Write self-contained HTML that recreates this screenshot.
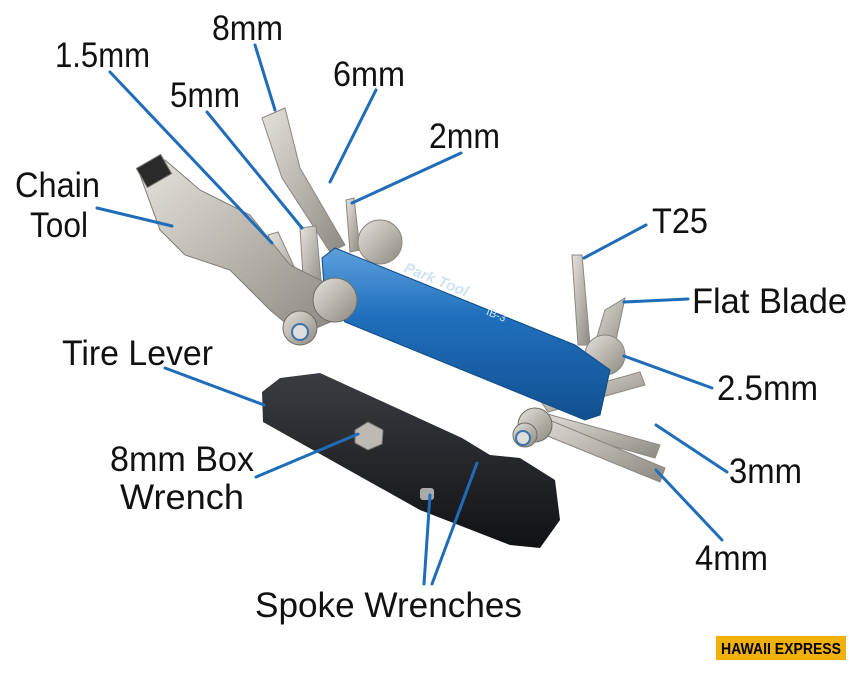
<!DOCTYPE html>
<html><head><meta charset="utf-8"><style>
html,body{margin:0;padding:0;background:#fff;width:862px;height:677px;overflow:hidden}
svg{display:block}
text{font-family:"Liberation Sans",sans-serif;font-size:35px;fill:#111}
</style></head><body>
<svg width="862" height="677" viewBox="0 0 862 677">
<defs>
<linearGradient id="sil" x1="0" y1="0" x2="1" y2="1"><stop offset="0" stop-color="#e4e2dc"/><stop offset=".5" stop-color="#b9b6ae"/><stop offset="1" stop-color="#8c8982"/></linearGradient>
<linearGradient id="blu" x1="0" y1="0" x2="0" y2="1"><stop offset="0" stop-color="#5da0dc"/><stop offset=".4" stop-color="#1f6fbd"/><stop offset="1" stop-color="#12508f"/></linearGradient>
<linearGradient id="blk" x1="0" y1="0" x2="0" y2="1"><stop offset="0" stop-color="#3a3c40"/><stop offset="1" stop-color="#111214"/></linearGradient>
</defs>
<g fill="url(#sil)" stroke="#8a877f" stroke-width="1">
<polygon points="262,118 285,108 300,168 345,245 330,252 282,178"/>
<polygon points="346,200 354,198 360,250 350,252"/>
<polygon points="300,228 316,226 322,290 304,292"/>
<polygon points="268,235 278,232 305,290 292,296"/>
<polygon points="572,255 582,255 590,345 578,345"/>
<polygon points="605,310 625,298 615,345 590,360"/>
<polygon points="540,400 640,372 645,385 548,412"/>
<polygon points="540,412 660,445 655,458 538,425"/>
<polygon points="530,412 665,468 660,482 528,428"/>
<circle cx="380" cy="242" r="22"/>
<circle cx="605" cy="355" r="20"/>
</g>
<g fill="url(#sil)" stroke="#7f7c75" stroke-width="1">
<polygon points="140,175 165,160 200,190 250,215 290,265 330,285 335,320 300,335 270,310 230,270 185,255 160,230"/>
<rect x="140" y="160" width="28" height="22" fill="#2a2a2a" transform="rotate(-30 154 171)"/>
</g>
<polygon points="322,258 335,248 575,345 610,370 600,415 585,420 345,322 325,300" fill="url(#blu)" stroke="#0f4a85"/>
<text x="398" y="283" transform="rotate(22 430 290)" style="font-size:15px;font-weight:bold;font-style:italic;fill:#cfe3f5">Park Tool</text>
<text x="486" y="318" transform="rotate(22 495 315)" style="font-size:11px;fill:#cfe3f5">IB-3</text>
<g fill="url(#sil)" stroke="#6f6c66">
<circle cx="335" cy="300" r="22"/>
<circle cx="300" cy="328" r="17"/>
<circle cx="535" cy="425" r="17"/>
<circle cx="525" cy="435" r="12"/>
</g>
<circle cx="300" cy="332" r="8" fill="#ddd" stroke="#3c72a8" stroke-width="2"/>
<circle cx="523" cy="438" r="7" fill="#ddd" stroke="#3c72a8" stroke-width="2"/>
<polygon points="262,392 280,378 320,373 462,438 490,455 520,458 555,480 560,520 540,548 510,545 420,510 263,422" fill="url(#blk)"/>
<polygon points="355,430 368,422 383,430 382,444 368,450 355,443" fill="#bdbab3" stroke="#777"/>
<rect x="420" y="488" width="14" height="12" fill="#aaa" rx="3"/>
<g stroke="#1f6cb8" stroke-width="3" fill="none" stroke-linecap="round">
<line x1="110" y1="72" x2="272" y2="243"/>
<line x1="207" y1="112" x2="302" y2="228"/>
<line x1="255" y1="45" x2="275" y2="110"/>
<line x1="376" y1="90" x2="330" y2="182"/>
<line x1="461" y1="153" x2="352" y2="203"/>
<line x1="97" y1="208" x2="172" y2="226"/>
<line x1="646" y1="225" x2="584" y2="258"/>
<line x1="688" y1="299" x2="624" y2="302"/>
<line x1="165" y1="368" x2="264" y2="405"/>
<line x1="712" y1="388" x2="624" y2="356"/>
<line x1="256" y1="477" x2="358" y2="434"/>
<line x1="727" y1="472" x2="656" y2="425"/>
<line x1="722" y1="540" x2="656" y2="470"/>
<line x1="424" y1="584" x2="430" y2="495"/>
<line x1="432" y1="584" x2="477" y2="463"/>
</g>
<g>
<text x="212" y="40" textLength="71" lengthAdjust="spacingAndGlyphs">8mm</text>
<text x="55" y="67" textLength="95" lengthAdjust="spacingAndGlyphs">1.5mm</text>
<text x="170" y="107" textLength="70" lengthAdjust="spacingAndGlyphs">5mm</text>
<text x="333" y="86" textLength="72" lengthAdjust="spacingAndGlyphs">6mm</text>
<text x="429" y="148" textLength="71" lengthAdjust="spacingAndGlyphs">2mm</text>
<text x="15" y="197" textLength="85" lengthAdjust="spacingAndGlyphs">Chain</text>
<text x="30" y="237" textLength="58" lengthAdjust="spacingAndGlyphs">Tool</text>
<text x="652" y="233" textLength="56" lengthAdjust="spacingAndGlyphs">T25</text>
<text x="692" y="313" textLength="155" lengthAdjust="spacingAndGlyphs">Flat Blade</text>
<text x="62" y="365" textLength="151" lengthAdjust="spacingAndGlyphs">Tire Lever</text>
<text x="717" y="400" textLength="101" lengthAdjust="spacingAndGlyphs">2.5mm</text>
<text x="110" y="471" textLength="144" lengthAdjust="spacingAndGlyphs">8mm Box</text>
<text x="120" y="509" textLength="124" lengthAdjust="spacingAndGlyphs">Wrench</text>
<text x="729" y="483" textLength="73" lengthAdjust="spacingAndGlyphs">3mm</text>
<text x="695" y="570" textLength="73" lengthAdjust="spacingAndGlyphs">4mm</text>
<text x="255" y="617" textLength="267" lengthAdjust="spacingAndGlyphs">Spoke Wrenches</text>
</g>
<rect x="716" y="636" width="130" height="24" fill="#f2b10a"/>
<text x="721" y="654" textLength="120" lengthAdjust="spacingAndGlyphs" style="font-size:16px;font-weight:bold;fill:#000">HAWAII EXPRESS</text>
</svg>
</body></html>
